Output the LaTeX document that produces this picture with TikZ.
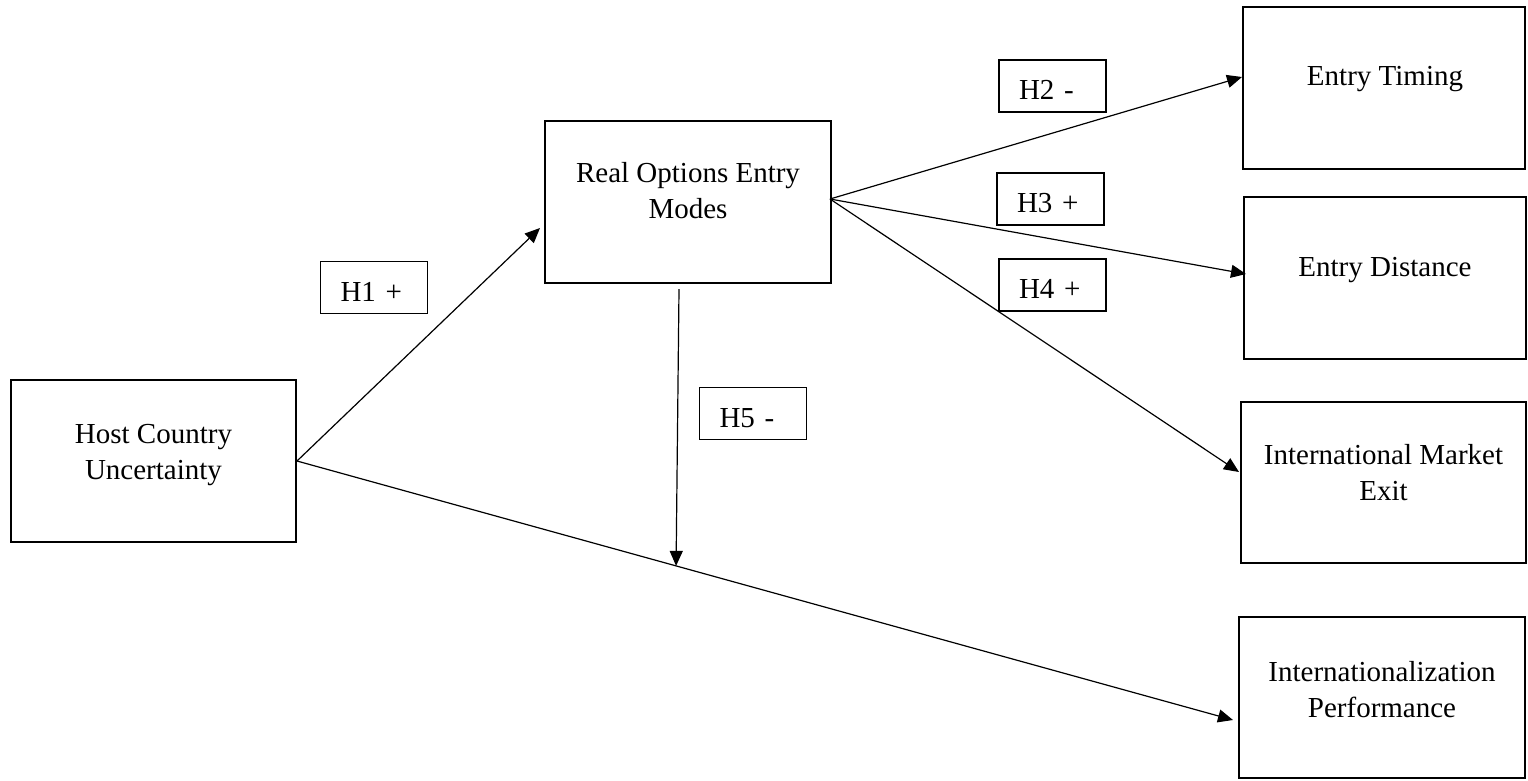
\documentclass[tikz,border=0pt]{standalone}
\usepackage{fontspec}
\setmainfont{Liberation Serif}
\usetikzlibrary{arrows.meta,calc}
\begin{document}
\begin{tikzpicture}[x=1pt,y=-1pt,
  every node/.style={font=\fontsize{29pt}{36pt}\selectfont},
  box/.style={draw,line width=2pt,minimum height=162pt,inner sep=0pt},
  boxtext/.style={anchor=north,align=center,inner sep=0pt},
  hyp/.style={draw,line width=1.3pt,minimum height=52pt,inner xsep=20pt,inner ysep=0pt,
    text width=67pt,align=left,text height=27pt,text depth=0pt},
  conn/.style={line width=1.2pt,-{Triangle[length=15pt,width=13pt]}}]
\useasboundingbox (0,0) rectangle (1528,780);
% boxes
\node[box,minimum width=285pt] (host) at (153.5,461) {};
\node[box,minimum width=286pt] (real) at (688,202) {};
\node[box,minimum width=282pt] (timing) at (1384,88) {};
\node[box,minimum width=282pt] (dist) at (1385,278) {};
\node[box,minimum width=285pt,minimum height=161pt] (exit) at (1383.5,482.5) {};
\node[box,minimum width=286pt,minimum height=161pt] (perf) at (1382,697.5) {};
% box texts
\node[boxtext] (hostT) at (153.5,424) {Host Country\\Uncertainty};
\node[boxtext] (realT) at (688,162) {Real Options Entry\\Modes};
\node[boxtext] (timingT) at (1385,66) {Entry Timing};
\node[boxtext] (distT) at (1385,257) {Entry Distance};
\node[boxtext] (exitT) at (1383.5,444) {International Market\\Exit};
\node[boxtext] (perfT) at (1382,661) {Internationalization\\Performance};
% hypothesis labels
\node[hyp] (h1) at (374,287.5) {H1 +};
\node[hyp] (h2) at (1052.5,86) {H2 -};
\node[hyp] (h3) at (1050.5,199) {H3 +};
\node[hyp] (h4) at (1052.5,285) {H4 +};
\node[hyp] (h5) at (753,413.5) {H5 -};
% connectors
\coordinate (src) at ([shift={(-2,-3)}]real.east);
\coordinate (perfin) at ([shift={(-5,22.5)}]perf.west);
\coordinate (mod) at ($(host.east)!0.405!(perfin)$);
\draw[conn] (host.east) -- ([shift={(-4,26)}]real.west);
\draw[conn] (src) -- ([shift={(0,-11)}]timing.west);
\draw[conn] (src) -- ([shift={(3,-4)}]dist.west);
\draw[conn] (src) -- ([shift={(-1,-10.5)}]exit.west);
\draw[conn] (host.east) -- (perfin);
\draw[conn] ([shift={(-9,5)}]real.south) -- (mod);
\end{tikzpicture}
\end{document}
